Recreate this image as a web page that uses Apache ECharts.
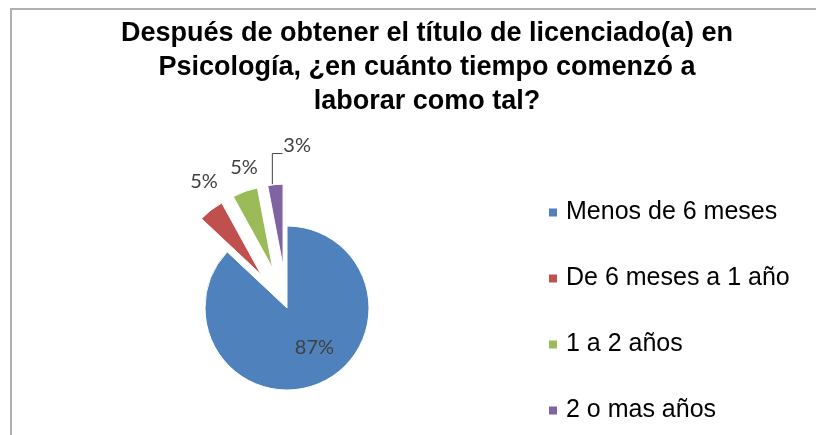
<!DOCTYPE html>
<html>
<head>
<meta charset="utf-8">
<script src="https://cdn.jsdelivr.net/npm/echarts@6/dist/echarts.min.js"></script>
<style>
  html, body { margin: 0; padding: 0; background: #fff; }
  #chart { width: 816px; height: 435px; }
</style>
</head>
<body>
<div id="chart"></div>
<script>
// values
var categories = ['Menos de 6 meses', 'De 6 meses a 1 año', '1 a 2 años', '2 o mas años'];
var percents = [87, 5, 5, 3];
var exploded = [false, true, true, true];
var colors = ['#4F81BD', '#C0504D', '#9BBB59', '#8064A2'];

var EXPLODE = 42;
// label spot relative to the middle of the exploded slice's arc
var labelShift = [null, [-7, -28], [-1, -24], null];

var chart = echarts.init(document.getElementById('chart'));

var fontLabel = {
    formatter: '{c}%',
    fontFamily: 'Lato, sans-serif',
    fontSize: 20,
    color: '#404040'
};

// the visible pie, small slices pulled out
var pieData = categories.map(function (name, i) {
    var item = {
        name: name,
        value: percents[i],
        selected: exploded[i],
        itemStyle: { color: colors[i] }
    };
    if (i === 0) {
        item.label = { show: true, position: 'inside', offset: [10, -1] };
    }
    return item;
});

// same pie again, unpainted, only to carry the outside labels
// (labels on selected slices cannot be moved by labelLayout)
var labelData = categories.map(function (name, i) {
    var item = { name: name, value: percents[i] };
    if (i === 0) {
        item.label = { show: false };
    }
    if (i !== 3) {
        item.labelLine = { lineStyle: { opacity: 0 } };
    }
    return item;
});

var option = {
    backgroundColor: '#fff',
    animation: false,
    title: {
        text: 'Después de obtener el título de licenciado(a) en\nPsicología, ¿en cuánto tiempo comenzó a\nlaborar como tal?',
        left: 427,
        textAlign: 'center',
        top: 17,
        padding: 0,
        textStyle: {
            fontFamily: 'Liberation Sans, Arial, sans-serif',
            fontSize: 27,
            fontWeight: 'bold',
            lineHeight: 34,
            color: '#000'
        }
    },
    legend: {
        orient: 'vertical',
        left: 547,
        top: 200,
        padding: 0,
        itemWidth: 10,
        itemHeight: 10,
        itemGap: 41,
        icon: 'rect',
        selectedMode: false,
        textStyle: {
            fontFamily: 'Liberation Sans, Arial, sans-serif',
            fontSize: 25,
            color: '#000',
            padding: [0, 0, 0, 3]
        },
        data: categories
    },
    graphic: [{
        type: 'polyline',
        shape: { points: [[11, 435], [11, 9], [816, 9]] },
        style: { stroke: '#b0b0b0', lineWidth: 2, fill: null },
        silent: true
    }],
    series: [{
        type: 'pie',
        center: [287, 308],
        radius: 82,
        startAngle: 90,
        clockwise: true,
        selectedMode: 'multiple',
        selectedOffset: EXPLODE,
        itemStyle: { borderColor: '#fff', borderWidth: 1 },
        select: { itemStyle: { borderColor: '#fff', borderWidth: 1 } },
        label: Object.assign({ show: false }, fontLabel),
        labelLine: { show: false },
        data: pieData
    }, {
        type: 'pie',
        center: [287, 308],
        radius: 82,
        startAngle: 90,
        clockwise: true,
        silent: true,
        selectedMode: false,
        avoidLabelOverlap: false,
        emphasis: { disabled: true },
        itemStyle: { color: 'rgba(0,0,0,0)', borderWidth: 0 },
        label: Object.assign({ position: 'outside' }, fontLabel),
        labelLine: {
            show: true,
            lineStyle: { color: '#404040', width: 1 }
        },
        labelLayout: function (params) {
            var pts = params.labelLinePoints;
            var i = params.dataIndex;
            if (!pts) return;
            var vx = pts[1][0] - pts[0][0];
            var vy = pts[1][1] - pts[0][1];
            var len = Math.sqrt(vx * vx + vy * vy) || 1;
            // middle of the arc once the slice is pulled out
            var mx = pts[0][0] + vx / len * EXPLODE;
            var my = pts[0][1] + vy / len * EXPLODE;
            if (labelShift[i]) {
                return {
                    x: mx + labelShift[i][0],
                    y: my + labelShift[i][1],
                    align: 'center',
                    verticalAlign: 'middle',
                    labelLinePoints: [[mx, my], [mx, my]]
                };
            }
            if (i === 3) {
                var lx = mx - 3;
                var top = my - 31;
                return {
                    x: lx + 11,
                    y: top - 8,
                    align: 'left',
                    verticalAlign: 'middle',
                    labelLinePoints: [[lx, my], [lx, top], [lx + 10, top]]
                };
            }
        },
        data: labelData
    }]
};

chart.setOption(option);
</script>
</body>
</html>
